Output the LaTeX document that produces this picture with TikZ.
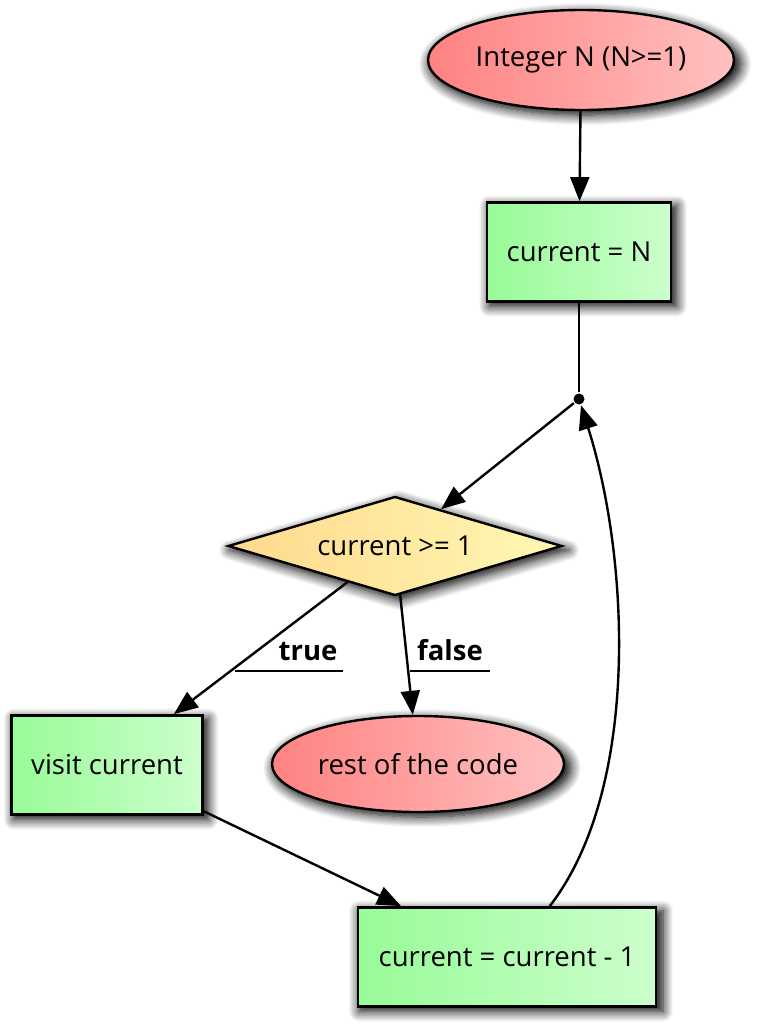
\documentclass[tikz,border=0pt]{standalone}
\usepackage{fontspec}
\setmainfont{Open Sans}
\usepackage{tikz}
\usetikzlibrary{arrows.meta, shapes.geometric, shadows.blur, calc}
\definecolor{redleft}{HTML}{FF8282}
\definecolor{redright}{HTML}{FFC0C0}
\definecolor{greenleft}{HTML}{98FB98}
\definecolor{greenright}{HTML}{CCFFCC}
\definecolor{yellowleft}{HTML}{FFD98C}
\definecolor{yellowright}{HTML}{FFF8B4}

\begin{document}
\begin{tikzpicture}[x=1pt, y=-1pt,
        >={Triangle[length=24pt, width=19pt]},
        line width=2.4pt,
        font=\fontsize{27.5}{32}\selectfont,
        softshadow/.style={blur shadow={shadow xshift=4pt, shadow yshift=-4pt, shadow scale=1.02, shadow blur radius=10pt, shadow blur steps=10, shadow opacity=100}},
        terminal/.style={ellipse, draw, softshadow, left color=redleft, right color=redright, inner sep=0pt},
        process/.style={rectangle, draw, line width=2.8pt, softshadow, left color=greenleft, right color=greenright, inner sep=0pt},
        decision/.style={diamond, draw, softshadow, left color=yellowleft, right color=yellowright, inner sep=0pt, aspect=3.37}]
    \useasboundingbox (0,0) rectangle (756,1033);
    % nodes
    \node[terminal, minimum width=306pt, minimum height=100pt] (start) at (581,60) {Integer N (N>=1)};
    \node[process, minimum width=184pt, minimum height=99pt] (init) at (579,252) {current = N};
    \node[circle, fill, inner sep=0pt, minimum size=11pt] (join) at (579,399) {};
    \node[decision, minimum width=334pt, minimum height=99pt] (test) at (395,546) {current >= 1};
    \node[process, minimum width=191pt, minimum height=99pt] (visit) at (107,765) {visit current};
    \node[terminal, minimum width=292pt, minimum height=96pt] (rest) at (418,764) {rest of the code};
    \node[process, minimum width=298pt, minimum height=99pt] (dec) at (507,957) {current = current - 1};
    % edges
    \draw[->] (start) -- (init);
    \draw (init) -- (join);
    \draw[->] (join) -- (test);
    \draw[->] (test) -- (visit);
    \draw[->] (test) -- (rest);
    \draw[->] (visit) -- (dec);
    \draw[->] ($(dec.north west)!0.642!(dec.north east)$) .. controls (640,790) and (630,560) .. (join);
    % labels
    \node[font=\fontsize{27.5}{32}\selectfont\bfseries, inner sep=0pt, anchor=base] (truelabel) at (308,660) {true};
    \node[font=\fontsize{27.5}{32}\selectfont\bfseries, inner sep=0pt, anchor=base] (falselabel) at (450,660) {false};
    \draw[line width=2pt] (235,671) -- (343,671);
    \draw[line width=2pt] (410,671) -- (490,671);
\end{tikzpicture}
\end{document}
